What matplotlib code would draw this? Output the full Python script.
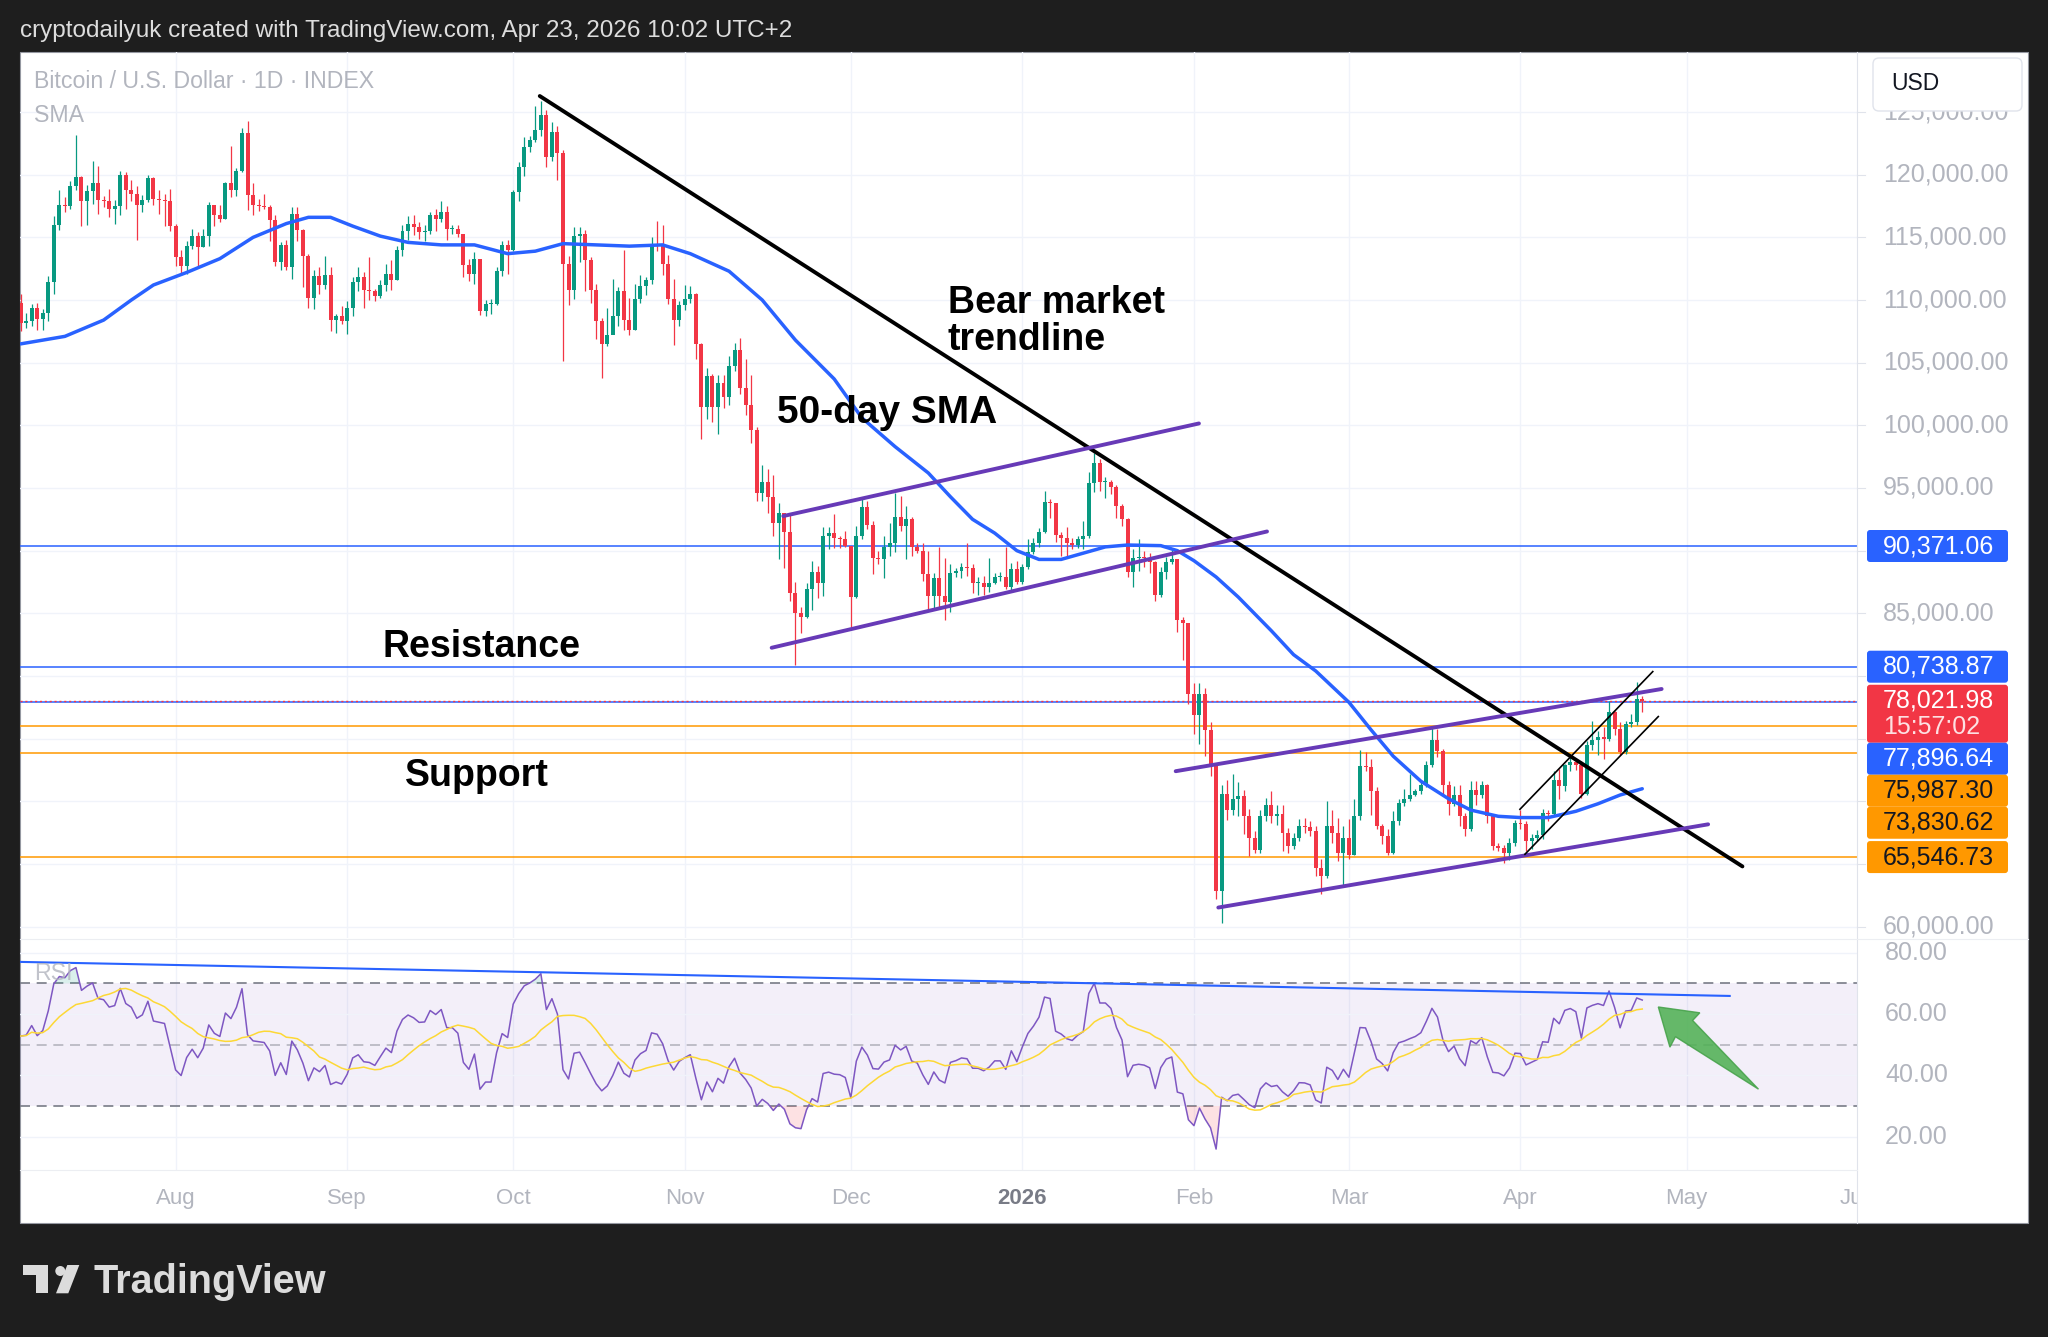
import numpy as np
import pandas as pd
import matplotlib
matplotlib.use("Agg")
import matplotlib.pyplot as plt
import matplotlib.dates as mdates
import matplotlib.transforms as mtransforms
from matplotlib.patches import Rectangle, Polygon, Circle, FancyBboxPatch

plt.rcParams['font.family'] = ['Liberation Sans', 'DejaVu Sans']

# BTC/USD daily candles from 4 Jul 2025 (values in thousands of USD)
start_date = "2025-07-04"
first_open = 109.8
closes = [
    108.2, 108.3, 109.4, 108.45, 109.0, 111.4, 116.0, 117.6, 117.5, 119.1,
    119.8, 117.9, 118.7, 119.3, 118.0, 117.9, 117.3, 117.5, 120.0, 118.8,
    118.5, 117.6, 118.0, 119.7, 118.1, 118.0, 117.9, 115.9, 113.4, 112.7,
    114.3, 115.1, 114.2, 115.1, 117.6, 116.8, 116.5, 119.3, 118.8, 120.3,
    123.3, 118.4, 117.6, 117.5, 117.4, 116.4, 113.0, 114.4, 112.6, 116.9,
    115.6, 113.5, 110.2, 111.9, 111.2, 112.0, 108.4, 108.7, 108.3, 109.4,
    111.4, 111.8, 110.8, 110.7, 110.3, 111.2, 112.1, 111.6, 114.0, 115.5,
    116.1, 115.85, 115.45, 115.5, 116.8, 116.5, 117.05, 115.7, 115.7, 115.3,
    112.8, 112.1, 113.3, 109.1, 109.7, 109.7, 112.3, 114.4, 114.0, 118.65,
    120.6, 122.2, 122.8, 123.6, 124.8, 121.4, 123.4, 121.7, 112.9, 110.8,
    115.1, 115.3, 113.2, 110.8, 108.3, 106.5, 107.2, 108.7, 110.7, 108.4,
    107.6, 110.1, 111.1, 111.6, 114.5, 114.3, 112.9, 110.1, 108.4, 109.6,
    110.1, 110.5, 106.5, 101.5, 103.9, 101.5, 103.4, 102.3, 104.7, 106.0,
    103.0, 101.6, 99.6, 94.6, 95.5, 94.3, 92.2, 93.0, 91.5, 86.6,
    85.05, 84.7, 86.9, 88.3, 87.4, 91.2, 91.4, 91.0, 90.9, 90.4,
    86.3, 91.2, 93.5, 92.05, 89.4, 89.3, 90.3, 90.6, 92.7, 92.0,
    92.5, 90.3, 90.0, 88.1, 86.4, 87.8, 86.4, 85.9, 88.2, 88.4,
    88.7, 88.6, 87.4, 87.4, 87.1, 87.4, 87.9, 87.9, 87.1, 88.5,
    87.5, 88.7, 89.9, 90.6, 91.5, 93.9, 93.8, 91.25, 91.0, 90.6,
    90.45, 90.9, 91.2, 95.4, 97.0, 95.5, 95.5, 95.1, 93.6, 92.5,
    88.3, 89.4, 89.5, 89.4, 89.1, 86.5, 88.3, 89.1, 89.3, 84.5,
    84.2, 78.6, 76.9, 78.6, 75.7, 72.9, 62.8, 70.6, 69.3, 70.2,
    70.4, 68.8, 67.05, 66.1, 68.8, 69.7, 68.8, 68.95, 67.45, 66.4,
    67.05, 68.0, 67.95, 67.6, 64.65, 64.0, 68.0, 67.45, 65.85, 67.05,
    65.7, 68.8, 72.8, 72.75, 70.8, 68.0, 67.2, 65.9, 68.4, 69.9,
    70.15, 70.5, 70.8, 71.3, 72.9, 74.9, 74.0, 71.3, 69.8, 70.5,
    68.8, 67.8, 70.9, 70.5, 71.3, 68.8, 66.4, 66.3, 65.85, 66.65,
    68.25, 68.2, 66.8, 67.05, 67.3, 69.05, 69.0, 71.7, 71.2, 72.9,
    73.15, 72.9, 70.6, 74.5, 74.9, 75.15, 75.0, 77.15, 75.8, 73.9,
    76.2, 76.3, 78.2, 78.02,
]
highs = [
    110.5, 109.0, 109.7, 109.8, 109.3, 111.9, 116.7, 118.8, 118.2, 119.5,
    123.2, 119.9, 119.2, 121.1, 120.7, 118.3, 118.9, 118.0, 120.3, 120.2,
    119.6, 119.1, 118.4, 120.0, 119.8, 118.8, 118.5, 118.9, 116.1, 114.0,
    114.7, 115.7, 115.4, 115.7, 117.8, 117.6, 117.6, 119.4, 122.3, 120.5,
    123.7, 124.3, 119.3, 118.1, 118.5, 117.6, 116.8, 114.6, 114.8, 117.4,
    117.4, 115.7, 113.7, 112.4, 112.6, 113.5, 112.6, 108.9, 109.5, 109.9,
    111.8, 112.6, 112.2, 113.4, 110.9, 111.6, 112.9, 113.2, 114.3, 116.0,
    116.7, 116.8, 116.2, 116.0, 117.0, 117.3, 117.9, 117.5, 116.0, 116.0,
    115.3, 113.3, 113.8, 113.3, 110.0, 110.1, 112.6, 114.7, 114.8, 118.8,
    121.0, 123.0, 123.1, 125.5, 125.9, 125.2, 124.2, 123.9, 122.0, 113.5,
    115.8, 115.8, 115.6, 113.4, 111.3, 108.6, 109.4, 111.7, 111.0, 114.0,
    110.2, 111.3, 112.0, 111.8, 115.0, 116.3, 116.0, 113.6, 111.7, 109.9,
    111.2, 111.1, 110.6, 106.6, 104.6, 104.1, 104.0, 104.0, 105.5, 106.6,
    107.0, 105.3, 104.0, 99.9, 96.8, 96.5, 96.0, 93.8, 93.0, 93.0,
    87.5, 85.5, 87.4, 89.2, 88.8, 91.9, 91.9, 92.9, 91.2, 91.6,
    90.4, 92.0, 94.1, 94.0, 92.4, 90.0, 91.2, 92.2, 94.6, 94.4,
    93.6, 92.7, 90.6, 90.6, 90.0, 88.2, 90.3, 89.4, 88.9, 88.6,
    89.0, 90.6, 88.9, 87.9, 88.0, 89.4, 88.2, 88.3, 90.3, 89.0,
    89.2, 88.9, 90.9, 91.0, 91.8, 94.8, 94.1, 93.8, 91.5, 91.9,
    91.0, 91.2, 92.4, 96.3, 97.8, 97.3, 95.9, 95.6, 95.2, 93.7,
    92.6, 90.1, 90.9, 90.0, 89.8, 89.2, 88.7, 89.5, 90.2, 89.3,
    84.7, 84.2, 79.4, 79.4, 79.0, 76.3, 73.0, 71.3, 71.7, 72.2,
    71.5, 70.9, 69.4, 67.6, 69.3, 70.3, 70.8, 69.7, 69.7, 67.9,
    67.5, 68.6, 68.7, 68.4, 68.0, 65.4, 70.0, 69.3, 68.7, 68.0,
    68.6, 70.2, 74.1, 73.9, 73.4, 71.1, 68.2, 67.8, 69.2, 70.2,
    71.0, 72.2, 71.0, 71.7, 73.2, 76.0, 75.8, 74.2, 71.6, 71.2,
    71.3, 69.1, 71.6, 71.6, 71.6, 71.4, 69.0, 66.7, 66.5, 67.1,
    68.5, 69.3, 68.4, 67.4, 67.7, 69.4, 69.3, 72.4, 72.6, 73.0,
    73.5, 73.4, 73.2, 74.8, 76.4, 75.6, 75.9, 78.0, 77.2, 76.3,
    76.4, 77.0, 79.5, 78.4,
]
lows = [
    107.5, 107.8, 107.9, 107.6, 107.6, 108.3, 110.5, 115.6, 117.0, 117.3,
    118.8, 115.9, 116.0, 117.7, 116.9, 117.4, 116.6, 116.1, 116.8, 117.3,
    117.9, 114.8, 117.0, 117.8, 117.6, 116.9, 115.9, 115.5, 112.7, 112.0,
    112.1, 114.1, 112.7, 114.2, 114.3, 115.9, 116.2, 116.5, 118.2, 118.3,
    120.2, 117.2, 116.8, 117.1, 117.3, 114.7, 112.7, 112.4, 112.4, 111.7,
    114.7, 111.0, 109.4, 109.3, 110.5, 110.9, 107.5, 107.4, 108.1, 107.3,
    108.7, 110.7, 109.4, 110.0, 109.9, 110.2, 110.7, 110.8, 111.6, 113.5,
    114.8, 115.2, 114.9, 114.7, 115.3, 115.5, 116.2, 114.8, 115.3, 115.0,
    111.8, 111.5, 111.3, 108.8, 108.7, 108.9, 109.6, 111.9, 112.1, 113.9,
    117.9, 119.9, 121.8, 122.6, 123.1, 120.6, 121.1, 119.6, 105.1, 109.6,
    110.1, 113.0, 110.7, 109.8, 106.9, 103.8, 106.3, 107.8, 107.9, 107.6,
    107.2, 107.6, 109.8, 110.4, 111.3, 113.9, 112.0, 109.7, 106.4, 107.9,
    109.2, 109.8, 105.3, 98.9, 100.5, 100.3, 99.3, 101.4, 101.6, 104.3,
    102.5, 100.8, 98.6, 94.0, 94.0, 93.0, 91.2, 89.3, 88.6, 86.0,
    80.9, 83.4, 84.6, 85.3, 86.2, 86.4, 90.1, 90.2, 90.2, 90.3,
    83.9, 86.2, 90.9, 91.7, 88.1, 88.9, 87.8, 89.6, 89.9, 91.6,
    89.3, 89.6, 89.8, 87.6, 85.2, 85.3, 85.4, 84.5, 85.1, 87.9,
    87.8, 88.0, 86.6, 86.5, 86.5, 86.7, 87.3, 87.6, 86.9, 86.7,
    87.3, 87.3, 88.5, 89.7, 90.3, 91.4, 92.6, 90.7, 89.6, 89.5,
    90.1, 90.2, 90.1, 91.0, 94.7, 94.8, 94.2, 94.5, 92.6, 92.0,
    87.9, 87.1, 88.4, 88.7, 88.2, 86.0, 86.3, 87.7, 88.9, 83.5,
    81.3, 77.8, 75.4, 74.6, 73.6, 72.0, 62.2, 60.3, 68.5, 68.9,
    68.8, 67.4, 65.6, 65.9, 65.9, 68.4, 68.3, 68.1, 66.0, 65.9,
    66.2, 66.8, 67.5, 67.2, 64.0, 62.6, 63.9, 66.7, 65.2, 63.3,
    65.4, 65.7, 68.5, 72.4, 68.9, 67.8, 66.6, 65.7, 65.8, 68.1,
    69.6, 70.0, 70.4, 70.6, 71.1, 72.7, 73.5, 70.5, 68.9, 69.6,
    68.0, 67.2, 67.6, 69.7, 70.3, 68.3, 66.1, 66.0, 65.1, 65.3,
    66.4, 67.8, 66.0, 66.2, 66.8, 67.0, 68.4, 68.8, 70.2, 70.8,
    72.4, 72.5, 70.3, 70.5, 74.1, 73.7, 73.4, 74.8, 75.3, 73.7,
    73.8, 75.9, 76.1, 77.1,
]

# 50-day SMA (day index from start, value in k)
sma_day = [0, 8, 15, 20, 24, 30, 36, 42, 48, 52, 56, 60, 65, 70, 76, 82, 88, 93,
           98, 104, 110, 116, 121, 128, 134, 140, 147, 152, 158, 164, 168, 172,
           176, 180, 184, 188, 192, 196, 200, 206, 209, 212, 216, 220, 226, 230,
           234, 240, 244, 248, 253, 258, 262, 267, 271, 276, 281, 285, 289, 293]
sma_val = [106.5, 107.1, 108.4, 110.0, 111.2, 112.2, 113.3, 115.0, 116.1, 116.6,
           116.6, 115.9, 115.1, 114.6, 114.4, 114.4, 113.7, 113.9, 114.5, 114.4,
           114.3, 114.4, 113.7, 112.3, 110.0, 106.8, 103.7, 100.6, 98.3, 96.2,
           94.3, 92.5, 91.4, 90.0, 89.3, 89.3, 89.8, 90.3, 90.45, 90.4, 90.0,
           89.2, 87.9, 86.3, 83.6, 81.7, 80.4, 77.9, 75.7, 73.6, 71.6, 70.2,
           69.3, 68.8, 68.7, 68.7, 69.2, 69.8, 70.5, 71.0]

# RSI(14) average gain / loss before the first bar (k), set to match the left edge
rsi_seed_gain, rsi_seed_loss = 0.72, 0.52

blue_levels = [90371.06, 80738.87, 77896.64]
orange_levels = [75987.30, 73830.62, 65546.73]
last_price = 78021.98
countdown = "15:57:02"

# drawings: (day index, price in k)
bear_line = [(93.8, 126.28), (311.1, 64.8)]
purple_lines = [[(137.8, 92.76), (212.9, 100.15)],
                [(135.7, 82.25), (225.2, 91.53)],
                [(208.7, 72.40), (296.5, 78.96)],
                [(216.4, 61.52), (304.9, 68.16)]]
small_channel = [[(270.9, 69.36), (294.9, 80.35)],
                 [(271.8, 65.77), (295.9, 76.76)]]
rsi_trend = [(-0.1, 77.0), (308.8, 65.9)]
green_arrow = [(295.9, 62.3), (303.4, 60.4), (302.1, 57.9), (314.0, 35.5),
               (299.0, 52.6), (298.0, 49.2)]

month_starts = ["2025-08-01", "2025-09-01", "2025-10-01", "2025-11-01", "2025-12-01",
                "2026-01-01", "2026-02-01", "2026-03-01", "2026-04-01", "2026-05-01",
                "2026-06-01"]
month_labels = ["Aug", "Sep", "Oct", "Nov", "Dec", "2026", "Feb", "Mar", "Apr", "May", "Jun"]

GREEN, RED, BLUE, ORANGE, PURPLE = '#089981', '#f23645', '#2962ff', '#ff9800', '#673ab7'
GRID, AXTXT = '#f0f3fa', '#b2b5be'
SCALE_FS = 18

W, H = 2048, 1337
fig = plt.figure(figsize=(W / 100, H / 100), dpi=100)
fig.patch.set_facecolor('#1e1e1e')


def box(x0, y0, x1, y1):
    return [x0 / W, 1 - y1 / H, (x1 - x0) / W, (y1 - y0) / H]


def fx(x):
    return x / W


def fy(y):
    return 1 - y / H


fig.add_artist(Rectangle((fx(20), fy(1223)), (2028 - 20) / W, (1223 - 52) / H,
                         transform=fig.transFigure, facecolor='white',
                         edgecolor='#9598a1', lw=0.8, zorder=-5))

ax = fig.add_axes(box(20, 52, 1857, 938))
ax_rsi = fig.add_axes(box(20, 940, 1857, 1170))
ax_time = fig.add_axes(box(20, 1170, 1857, 1223))

x0 = mdates.date2num(pd.Timestamp(start_date))
xlim = (x0 - 0.11, x0 + 331.8)
for a in (ax, ax_rsi, ax_time):
    a.set_xlim(*xlim)
    a.set_axis_off()
ax.set_ylim(59089, 129793)
ax_rsi.set_ylim(9.14, 84.14)
ax_time.set_ylim(0, 1)

month_x = [mdates.date2num(pd.Timestamp(m)) for m in month_starts]

# grid
for mx in month_x:
    ax.axvline(mx, color=GRID, lw=1.0, zorder=0)
    ax_rsi.axvline(mx, color=GRID, lw=1.0, zorder=0)
price_ticks = np.arange(60000, 125001, 5000)
for p in price_ticks:
    ax.axhline(p, color=GRID, lw=1.0, zorder=0)

# candles
c = np.array(closes) * 1000
o = np.concatenate([[first_open * 1000], c[:-1]])
hi = np.array(highs) * 1000
lo = np.array(lows) * 1000
xd = x0 + np.arange(len(c))
col = np.where(c >= o, GREEN, RED)
ax.vlines(xd, lo, hi, colors=col, lw=0.9, zorder=3)
ax.bar(xd, np.maximum(np.abs(c - o), 70), bottom=np.minimum(o, c), width=0.72,
       color=col, lw=0, zorder=3)

# 50-day SMA
ax.plot(x0 + np.array(sma_day), np.array(sma_val) * 1000, color=BLUE, lw=2.5,
        zorder=4, solid_joinstyle='round', solid_capstyle='round')

# horizontal levels
for lv in blue_levels:
    ax.axhline(lv, color=BLUE, lw=1.1, zorder=2)
for lv in orange_levels:
    ax.axhline(lv, color=ORANGE, lw=1.1, zorder=2)
ax.axhline(last_price, color=RED, lw=1.0, ls=(0, (1.5, 2.0)), zorder=2)

# trend lines / channels
(d1, p1), (d2, p2) = bear_line
ax.plot([x0 + d1, x0 + d2], [p1 * 1000, p2 * 1000], color='black', lw=2.8, zorder=5,
        solid_capstyle='round')
for seg in purple_lines:
    (d1, p1), (d2, p2) = seg
    ax.plot([x0 + d1, x0 + d2], [p1 * 1000, p2 * 1000], color=PURPLE, lw=2.8, zorder=5,
            solid_capstyle='round')
for seg in small_channel:
    (d1, p1), (d2, p2) = seg
    ax.plot([x0 + d1, x0 + d2], [p1 * 1000, p2 * 1000], color='black', lw=1.2, zorder=5)

# chart notes
note_kw = dict(fontsize=27, fontweight='bold', color='black', va='baseline', zorder=6)
ax.text(x0 + 167.5, 108988, 'Bear market', **note_kw)
ax.text(x0 + 167.5, 106012, 'trendline', **note_kw)
ax.text(x0 + 136.6, 100162, '50-day SMA', fontsize=28, fontweight='bold', color='black',
        va='baseline', zorder=6)
ax.text(x0 + 65.4, 81545, 'Resistance', **note_kw)
ax.text(x0 + 69.4, 71234, 'Support', **note_kw)

# RSI
ag, al = rsi_seed_gain, rsi_seed_loss
prev = first_open
rsi = []
for cl in closes:
    ch = cl - prev
    ag = (ag * 13 + max(ch, 0)) / 14
    al = (al * 13 + max(-ch, 0)) / 14
    rsi.append(100 - 100 / (1 + ag / al))
    prev = cl
rsi = np.array(rsi)
rsi_ma = pd.Series(rsi).rolling(14, min_periods=1).mean().values

ax_rsi.axhspan(30, 70, color='#7e57c2', alpha=0.09, lw=0, zorder=0)
for lvl in (80, 60, 40, 20):
    ax_rsi.axhline(lvl, color=GRID, lw=1.0, zorder=0)
ax_rsi.axhline(70, color='#787b86', lw=1.2, ls=(0, (6, 4)), zorder=1)
ax_rsi.axhline(50, color='#787b86', lw=1.2, ls=(0, (6, 4)), alpha=0.5, zorder=1)
ax_rsi.axhline(30, color='#787b86', lw=1.2, ls=(0, (6, 4)), zorder=1)
ax_rsi.fill_between(xd, rsi, 70, where=rsi > 70, interpolate=True, color=GREEN,
                    alpha=0.15, lw=0)
ax_rsi.fill_between(xd, rsi, 30, where=rsi < 30, interpolate=True, color=RED,
                    alpha=0.15, lw=0)
ax_rsi.plot(xd, rsi, color='#7e57c2', lw=1.1, zorder=3)
ax_rsi.plot(xd, rsi_ma, color='#fdd835', lw=1.1, zorder=3)
(d1, r1), (d2, r2) = rsi_trend
ax_rsi.plot([x0 + d1, x0 + d2], [r1, r2], color=BLUE, lw=1.5, zorder=4)
ax_rsi.add_patch(Polygon([(x0 + d, r) for d, r in green_arrow], closed=True,
                         facecolor='#4caf50', edgecolor='#43a047', alpha=0.85,
                         lw=1.0, zorder=5))

# time axis labels
for mx, lab in zip(month_x, month_labels):
    bold = lab == "2026"
    ax_time.text(mx, 0.47, lab, ha='center', va='center', fontsize=16,
                 color='#787b86' if bold else AXTXT,
                 fontweight='bold' if bold else 'normal', clip_on=True)

# separators
fig.add_artist(plt.Line2D([fx(1857), fx(1857)], [fy(52), fy(1223)], color='#e0e3eb',
                          lw=0.8, transform=fig.transFigure))
fig.add_artist(plt.Line2D([fx(20), fx(2028)], [fy(939), fy(939)], color='#eceef2',
                          lw=0.8, transform=fig.transFigure))
fig.add_artist(plt.Line2D([fx(20), fx(1857)], [fy(1170), fy(1170)], color='#eceef2',
                          lw=0.8, transform=fig.transFigure))


def price_px(p):
    # pixel row (from top) of a price on the main pane
    return H - ax.transData.transform((x0, p))[1]


# coloured price labels, stacked top-down like TradingView
tags = [(90371.06, BLUE, 'white', None), (80738.87, BLUE, 'white', None),
        (last_price, RED, 'white', countdown), (77896.64, BLUE, 'white', None),
        (75987.30, ORANGE, '#131722', None), (73830.62, ORANGE, '#131722', None),
        (65546.73, ORANGE, '#131722', None)]
tags.sort(key=lambda t: -t[0])
spans = []
prev_bottom = -1e9
for price, fc, tc, extra in tags:
    hgt = 58 if extra else 32
    top = max(price_px(price) - 16, prev_bottom)
    bottom = top + hgt
    prev_bottom = bottom
    spans.append((top, bottom))
    fig.add_artist(FancyBboxPatch((1867, H - bottom), 141, hgt,
                                  boxstyle='round,pad=0,rounding_size=3',
                                  transform=mtransforms.IdentityTransform(),
                                  facecolor=fc, edgecolor='none', zorder=6))
    fig.text(fx(1883), fy(top + 16), f"{price:,.2f}", color=tc, fontsize=SCALE_FS,
             va='center', ha='left', zorder=7)
    if extra:
        fig.text(fx(1883), fy(top + 42), extra, color=tc, alpha=0.85, fontsize=SCALE_FS,
                 va='center', ha='left', zorder=7)

# price scale labels (hidden where a coloured label sits)
for p in price_ticks:
    yp = price_px(p)
    fig.add_artist(plt.Line2D([fx(1857), fx(1865)], [fy(yp), fy(yp)], color='#e0e3eb',
                              lw=0.8, transform=fig.transFigure))
    if any(t - 10 < yp < b + 10 for t, b in spans):
        continue
    fig.text(fx(1883), fy(yp), f"{p:,.2f}", color=AXTXT, fontsize=SCALE_FS, va='center',
             ha='left', zorder=5)

# RSI scale labels
for lvl in (80, 60, 40, 20):
    yp = H - ax_rsi.transData.transform((x0, lvl))[1]
    fig.text(fx(1885), fy(yp), f"{lvl:.2f}", color=AXTXT, fontsize=SCALE_FS, va='center',
             ha='left', zorder=5)

# currency box
fig.add_artist(FancyBboxPatch((1873, H - 111), 149, 53, boxstyle='round,pad=0,rounding_size=6',
                              transform=mtransforms.IdentityTransform(),
                              facecolor='white', edgecolor='#e0e3eb', lw=1.0, zorder=8))
fig.text(fx(1891), fy(84), 'USD', color='#131722', fontsize=16.5, va='center', ha='left',
         zorder=9)

# header, legends
fig.text(fx(20), fy(31), 'cryptodailyuk created with TradingView.com, Apr 23, 2026 10:02 UTC+2',
         color='#dddddd', fontsize=17.5, va='center', ha='left')
fig.text(fx(34), fy(81), 'Bitcoin / U.S. Dollar · 1D · INDEX', color=AXTXT, fontsize=16.7,
         va='center', ha='left', zorder=8)
fig.text(fx(34), fy(115), 'SMA', color=AXTXT, fontsize=16.7, va='center', ha='left', zorder=8)
fig.text(fx(34), fy(973), 'RSI', color=AXTXT, fontsize=16.7, va='center', ha='left', zorder=8,
         alpha=0.8)

# TradingView logo
LOGO = '#dcdcdc'
fig.add_artist(Rectangle((22.7, H - 1274.5), 25.6, 9.5, transform=mtransforms.IdentityTransform(),
                         facecolor=LOGO, edgecolor='none'))
fig.add_artist(Rectangle((35.5, H - 1293.3), 12.8, 28.3, transform=mtransforms.IdentityTransform(),
                         facecolor=LOGO, edgecolor='none'))
fig.add_artist(Circle((60.3, H - 1271.0), 5.0, transform=mtransforms.IdentityTransform(),
                      facecolor=LOGO, edgecolor='none'))
fig.add_artist(Polygon([(67.3, H - 1265), (79.3, H - 1265), (68.3, H - 1293.3), (56.0, H - 1293.3)],
                       closed=True, transform=mtransforms.IdentityTransform(),
                       facecolor=LOGO, edgecolor='none'))
fig.text(fx(93), fy(1293.3), 'TradingView', color=LOGO, fontsize=28.5, fontweight='bold',
         va='baseline', ha='left')

fig.savefig('out.png', dpi=100, facecolor=fig.get_facecolor())
